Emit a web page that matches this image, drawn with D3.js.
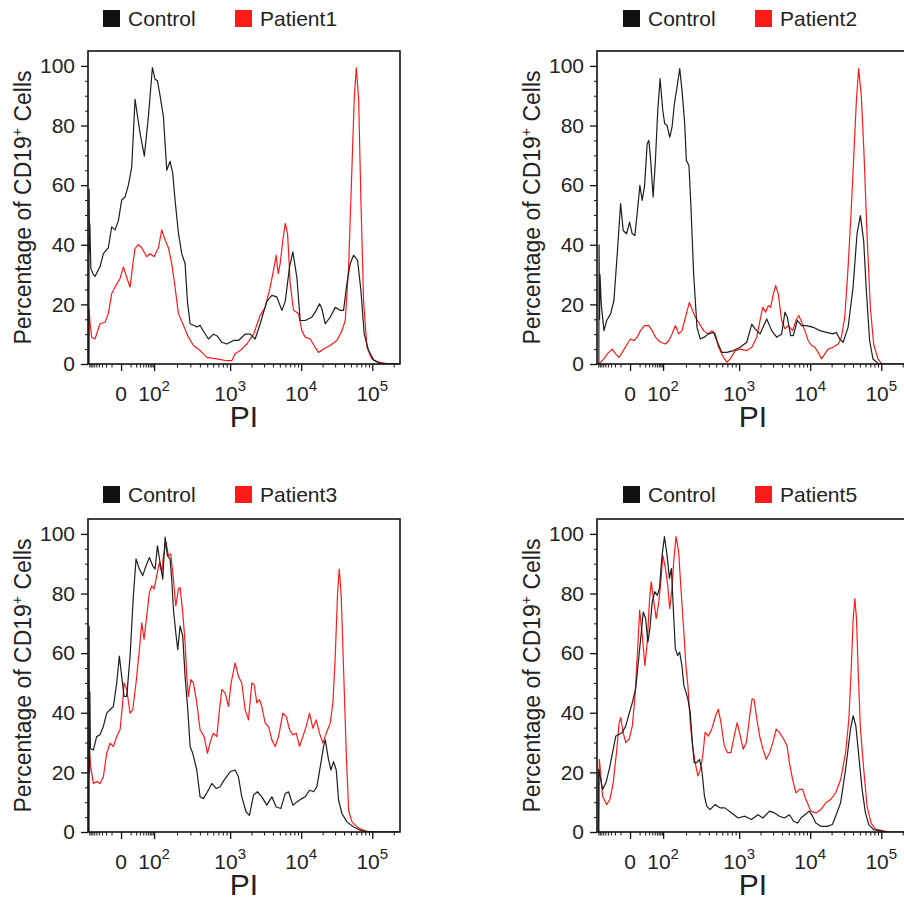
<!DOCTYPE html>
<html>
<head>
<meta charset="utf-8">
<script src="https://cdn.jsdelivr.net/npm/d3@7/dist/d3.min.js"></script>
<style>
  body { margin: 0; background: #fff; }
  text { font-family: "Liberation Sans", Arial, Helvetica, sans-serif; fill: #222; }
</style>
</head>
<body>
<div id="chart"></div>
<script>
// x values are display positions in decades on the FlowJo biex PI axis (10^3 -> 3, 10^4 -> 4 ...)
// y values are percentage of max (CD19+ cells)
const control1 = [[1.012,0],[1.016,58.6],[1.022,38],[1.026,47],[1.04,32],[1.075,30],[1.099,29.4],[1.169,32.6],[1.216,37],[1.286,39],[1.333,46],[1.380,45],[1.427,48],[1.474,55],[1.521,56],[1.568,60],[1.615,66],[1.662,88.8],[1.732,77.5],[1.793,69.7],[1.850,83],[1.906,99.4],[1.944,95.5],[1.977,95],[2.014,90],[2.061,83],[2.108,65],[2.155,68],[2.192,64],[2.225,55],[2.272,44],[2.319,37],[2.366,33.7],[2.399,21],[2.437,13.5],[2.484,13],[2.531,12.4],[2.577,13],[2.624,11],[2.695,8.4],[2.765,10],[2.812,9.5],[2.883,7.3],[2.953,6.7],[3.047,7.9],[3.117,7.9],[3.211,10],[3.282,10],[3.352,8.4],[3.423,13.5],[3.516,21],[3.587,23],[3.657,22.5],[3.728,18],[3.775,21],[3.836,32.6],[3.883,37.6],[3.939,29],[3.986,14.6],[4.056,14.6],[4.150,15.7],[4.197,17.4],[4.258,20.2],[4.291,18.5],[4.338,13.5],[4.408,15.7],[4.479,19],[4.549,18],[4.596,18],[4.643,27],[4.690,33.7],[4.737,36.5],[4.793,34.8],[4.840,24.7],[4.887,10],[4.948,4.5],[5.019,1.3],[5.113,0.2],[5.207,0],[5.39,0]];
const patient1 = [[1.012,0],[1.016,18.5],[1.028,14],[1.052,9],[1.099,8.4],[1.169,13.5],[1.239,14],[1.286,16.9],[1.333,23.6],[1.380,25.8],[1.451,28.7],[1.498,32.6],[1.545,29],[1.592,25.8],[1.638,34.8],[1.662,38.8],[1.709,40],[1.756,39],[1.826,36],[1.873,37],[1.930,36],[1.991,39],[2.038,45],[2.085,41.6],[2.131,39],[2.178,33.7],[2.225,25.8],[2.272,16.9],[2.343,13],[2.413,9],[2.484,6.2],[2.577,4.5],[2.671,2.2],[2.812,1.7],[2.953,1.1],[3.023,1.1],[3.070,3.4],[3.141,4.5],[3.235,6.7],[3.329,10],[3.423,16.3],[3.493,19],[3.563,25.8],[3.620,32.6],[3.648,36.5],[3.676,30.3],[3.704,33.7],[3.742,41.6],[3.775,47.2],[3.808,43.8],[3.845,27],[3.892,18],[3.962,16.9],[4.009,11.2],[4.056,9],[4.127,8.4],[4.197,5.6],[4.244,3.9],[4.315,5],[4.408,6.2],[4.502,7.9],[4.573,11.2],[4.620,14.6],[4.667,32.6],[4.714,66],[4.746,88.8],[4.775,99.4],[4.808,88.8],[4.840,55],[4.878,21],[4.925,5.6],[4.995,1.7],[5.089,0.6],[5.183,0.2],[5.39,0]];

const control2 = [[1.026,0],[1.029,40],[1.036,15],[1.042,30],[1.060,20],[1.098,11.2],[1.136,14.6],[1.192,16.8],[1.238,21.3],[1.285,37],[1.332,53.8],[1.369,44.8],[1.416,43.7],[1.458,47.6],[1.495,43.7],[1.533,43.1],[1.565,50.4],[1.603,59.9],[1.636,54.9],[1.668,59.4],[1.706,73.9],[1.729,75],[1.752,69.4],[1.790,56],[1.822,68.3],[1.855,85.1],[1.888,95.7],[1.925,85.1],[1.953,80.6],[1.986,80],[2.023,76.1],[2.056,79.5],[2.089,87.3],[2.126,92.9],[2.164,99.1],[2.196,91.8],[2.234,80.6],[2.257,68.3],[2.294,66.6],[2.322,52.6],[2.360,30.2],[2.407,12.3],[2.453,8.4],[2.509,9],[2.570,10.1],[2.640,10.6],[2.687,7.8],[2.757,3.9],[2.827,3.9],[2.921,4.5],[3.014,5.6],[3.107,7.3],[3.178,13.4],[3.224,11.8],[3.294,10.1],[3.388,15.1],[3.458,11.2],[3.528,9],[3.598,10.1],[3.645,17.4],[3.678,15.7],[3.724,9.5],[3.762,9.5],[3.818,14.6],[3.879,12.9],[3.949,12.9],[4.042,12.3],[4.136,11.2],[4.229,10.6],[4.322,10.1],[4.369,10.6],[4.416,8.4],[4.463,7.3],[4.533,12.3],[4.603,25.8],[4.659,43.7],[4.706,49.8],[4.752,41.4],[4.790,24.6],[4.836,7.8],[4.883,1.7],[4.953,0.2],[5.023,0],[5.39,0]];
const patient2 = [[1.03,0],[1.051,0.6],[1.098,1.7],[1.145,3.4],[1.215,5],[1.262,3.4],[1.308,2.2],[1.355,3.9],[1.425,6.7],[1.472,8.4],[1.519,7.8],[1.565,9],[1.612,11.2],[1.668,12.9],[1.729,12.9],[1.776,11.2],[1.822,9],[1.893,7.3],[1.963,6.7],[2.009,7.8],[2.056,10.1],[2.103,12.9],[2.150,10.1],[2.196,11.2],[2.257,16.8],[2.299,20.7],[2.336,18.5],[2.383,15.7],[2.430,14],[2.500,11.2],[2.556,10.1],[2.617,11.2],[2.664,10.1],[2.710,5.6],[2.780,2.2],[2.827,0.6],[2.874,1.7],[2.944,4.5],[3.014,5],[3.107,4.5],[3.178,5.6],[3.248,9],[3.294,14.6],[3.332,19],[3.374,17.4],[3.411,19.6],[3.444,19],[3.481,23.5],[3.514,26.3],[3.551,23.5],[3.598,14.6],[3.645,11.8],[3.692,12.9],[3.752,11.2],[3.808,15.1],[3.841,16.2],[3.879,14],[3.925,11.2],[3.972,7.8],[4.019,6.2],[4.065,5.6],[4.112,3.9],[4.159,1.7],[4.206,3.4],[4.252,5],[4.322,5.6],[4.393,6.7],[4.439,9],[4.486,15.7],[4.533,32.5],[4.579,52.6],[4.617,71.7],[4.650,88.5],[4.682,99.1],[4.720,89.6],[4.757,70.5],[4.799,43.7],[4.846,19],[4.893,6.7],[4.953,1.7],[5.000,0.2],[5.05,0]];

const control3 = [[1.012,0],[1.016,69],[1.022,20],[1.026,47],[1.034,28],[1.075,27.5],[1.122,32],[1.169,32.6],[1.216,35.4],[1.263,39.9],[1.310,41],[1.357,42.1],[1.404,50],[1.441,59],[1.474,52.2],[1.507,45.5],[1.545,45.5],[1.592,59],[1.638,79.2],[1.676,91.6],[1.723,88.2],[1.770,86],[1.817,89.3],[1.864,92.1],[1.911,89.3],[1.944,88.2],[1.977,96],[2.014,90.4],[2.052,84.8],[2.085,98.9],[2.117,92.7],[2.155,91.6],[2.178,84.8],[2.202,74.7],[2.235,66.9],[2.263,61.2],[2.296,69.1],[2.333,65.7],[2.366,52.2],[2.404,41],[2.437,28.7],[2.474,26.4],[2.531,20.8],[2.577,11.8],[2.624,11.2],[2.681,13.5],[2.742,16.3],[2.803,14.6],[2.859,15.2],[2.915,17.4],[3.000,20.2],[3.070,20.8],[3.117,18.5],[3.164,11.8],[3.225,6.7],[3.272,5.6],[3.329,12.4],[3.385,13.5],[3.446,11.8],[3.516,9],[3.587,11.8],[3.648,8.4],[3.714,7.9],[3.775,12.9],[3.822,13.5],[3.883,9],[3.939,10.1],[4.009,11.2],[4.056,11.8],[4.117,14],[4.174,13.5],[4.221,15.2],[4.268,21.9],[4.315,28.7],[4.338,30.9],[4.385,24.2],[4.418,20.8],[4.455,23.6],[4.493,20.8],[4.526,10.7],[4.573,6.2],[4.643,3.4],[4.737,1.7],[4.831,0.6],[4.901,0.2],[5.0,0],[5.39,0]];
const patient3 = [[1.012,0],[1.016,28.7],[1.038,22],[1.075,16.3],[1.122,16.9],[1.169,16.3],[1.216,18.5],[1.263,26.4],[1.310,29.8],[1.357,28.7],[1.404,32],[1.451,34.3],[1.488,43.3],[1.507,50],[1.545,47.8],[1.592,39.9],[1.629,41],[1.676,50],[1.723,61.2],[1.756,70.2],[1.789,64.6],[1.826,72.5],[1.864,80.3],[1.897,82.6],[1.930,81.5],[1.967,86],[2.005,90.4],[2.038,87.1],[2.061,92.7],[2.099,97.2],[2.131,92.7],[2.164,93.3],[2.202,84.8],[2.235,75.8],[2.272,81.5],[2.296,82],[2.333,73.6],[2.366,63.5],[2.390,52.2],[2.413,45.5],[2.446,51.1],[2.484,50],[2.531,43.3],[2.577,34.3],[2.634,32],[2.681,26.4],[2.728,30.9],[2.765,33.1],[2.812,32],[2.850,41],[2.883,47.8],[2.930,46.6],[2.977,42.1],[3.014,50],[3.070,56.7],[3.117,52.2],[3.164,50],[3.211,41],[3.258,37.6],[3.305,50],[3.338,49.4],[3.376,43.3],[3.413,44.4],[3.446,42.1],[3.493,36.5],[3.540,35.4],[3.587,30.9],[3.634,28.7],[3.681,32],[3.742,39.9],[3.789,38.8],[3.836,34.3],[3.883,32.6],[3.930,33.1],[3.977,28.7],[4.023,32],[4.070,35.4],[4.117,39.9],[4.164,34.8],[4.211,37.6],[4.258,33.1],[4.305,29.8],[4.352,33.1],[4.408,36.5],[4.446,43.3],[4.479,59],[4.512,80.3],[4.535,88.2],[4.563,79.2],[4.596,54.5],[4.634,26.4],[4.667,7.3],[4.714,3.4],[4.784,1.7],[4.854,0.8],[4.925,0.2],[5.0,0],[5.39,0]];

const control4 = [[1.020,0],[1.023,21],[1.042,18.8],[1.079,14.3],[1.126,16.5],[1.172,21],[1.219,26.6],[1.265,32.2],[1.312,32.8],[1.358,33.4],[1.405,35.6],[1.451,39.6],[1.498,43.5],[1.544,48],[1.591,59.2],[1.628,68.2],[1.651,73.8],[1.684,71.6],[1.716,63.7],[1.744,68.2],[1.777,77.2],[1.814,80.6],[1.847,79.4],[1.879,81.7],[1.916,92.9],[1.949,99.1],[1.986,92.9],[2.019,85.1],[2.047,88.4],[2.074,74.9],[2.102,61.5],[2.135,59.2],[2.163,60.3],[2.195,55.8],[2.223,49.1],[2.251,46.9],[2.279,44.6],[2.312,40.1],[2.335,32.2],[2.367,23.3],[2.405,23.3],[2.442,24.4],[2.474,21],[2.512,12],[2.544,8.7],[2.591,7.5],[2.660,9.2],[2.730,8.1],[2.800,8.1],[2.893,6.4],[2.986,4.7],[3.079,5.3],[3.172,4.2],[3.265,5.8],[3.335,4.7],[3.428,7],[3.498,6.4],[3.567,5.3],[3.637,4.7],[3.707,5.8],[3.767,3.6],[3.823,3],[3.870,4.7],[3.926,5.8],[3.986,7],[4.033,5.3],[4.079,3],[4.149,1.9],[4.242,1.9],[4.312,2.5],[4.358,5.3],[4.428,9.8],[4.498,21],[4.567,34.5],[4.605,39],[4.642,35.6],[4.684,25.5],[4.730,14.3],[4.777,6.4],[4.823,2.5],[4.893,0.8],[4.986,0.4],[5.05,0],[5.39,0]];
const patient5 = [[1.028,0],[1.033,24.4],[1.079,12],[1.135,9.2],[1.181,10.9],[1.228,16.5],[1.274,26.6],[1.312,36.7],[1.335,38.4],[1.367,33.4],[1.405,30],[1.451,31.1],[1.498,35.6],[1.535,45.7],[1.567,59.2],[1.600,74.4],[1.637,66],[1.674,55.8],[1.707,63.7],[1.740,78.3],[1.763,83.9],[1.800,77.2],[1.833,71.6],[1.870,77.2],[1.902,85.1],[1.926,92.9],[1.963,88.4],[1.995,82.8],[2.023,74.9],[2.056,81.7],[2.079,90.7],[2.112,99.1],[2.149,94],[2.181,81.7],[2.219,68.2],[2.251,55.8],[2.279,49.1],[2.312,36.7],[2.344,28.9],[2.381,23.3],[2.419,18.8],[2.456,21],[2.488,25.5],[2.521,33.4],[2.567,32.2],[2.614,34.5],[2.670,39],[2.707,41.2],[2.744,36.7],[2.791,28.9],[2.837,26.6],[2.884,26.6],[2.930,32.2],[2.972,36.7],[3.005,33.4],[3.056,27.8],[3.102,30],[3.149,39],[3.181,44.6],[3.209,44.6],[3.242,39],[3.288,32.2],[3.335,27.8],[3.381,24.4],[3.428,26.6],[3.474,30],[3.521,34.5],[3.567,33.4],[3.628,31.1],[3.674,28.9],[3.707,23.3],[3.753,17.6],[3.800,13.1],[3.847,14.3],[3.893,14.3],[3.940,10.9],[4.009,7],[4.079,6.4],[4.149,7.5],[4.219,9.8],[4.288,10.9],[4.358,13.1],[4.428,17.6],[4.498,26.6],[4.544,37.9],[4.577,54.7],[4.605,71.6],[4.628,78.3],[4.651,71.6],[4.674,54.7],[4.707,34.5],[4.753,21],[4.800,8.7],[4.856,3],[4.916,1],[5.033,0.4],[5.1,0]];

const patientNames = ["Patient1", "Patient2", "Patient3", "Patient5"];
const controlSeries = [control1, control2, control3, control4];
const patientSeries = [patient1, patient2, patient3, patient5];

// PI axis ticks (raw PI values) and labels
const xMajorValues = [0, 100, 1000, 10000, 100000];
const xMajorLabels = [["0", ""], ["10", "2"], ["10", "3"], ["10", "4"], ["10", "5"]];
const xMinorValues = [-90, -80, -70, -60, -50, -40, -30, -20, -10, 10, 20, 30, 40, 50, 60, 70, 80, 90,
  200, 300, 400, 500, 600, 700, 800, 900, 2000, 3000, 4000, 5000, 6000, 7000, 8000, 9000,
  20000, 30000, 40000, 50000, 60000, 70000, 80000, 90000, 200000];
const yMajorTicks = [0, 20, 40, 60, 80, 100];
const yMinorTicks = d3.range(0, 101, 5).filter(v => v % 20 !== 0);

// biex-like transform from PI value to display decades
function biex(v) {
  const a = Math.abs(v);
  if (a <= 100) return 1.465 + Math.sign(v) * 0.465 * Math.log10(1 + a / 10) / Math.log10(11);
  if (a < 1000) return 1.93 + 1.07 * Math.log10(a / 100);
  return Math.log10(a);
}

const W = 904, H = 901;
const pw = 312, ph = 313;
const panels = [
  { left: 88, top: 51, legendX: 103, legendY: 10 },
  { left: 597, top: 51, legendX: 623, legendY: 10 },
  { left: 88, top: 519, legendX: 103, legendY: 486 },
  { left: 597, top: 519, legendX: 623, legendY: 486 }
];

const svg = d3.select("#chart").append("svg")
  .attr("width", W).attr("height", H);

const x = d3.scaleLinear().domain([1.0, 5.39]).range([0, pw]);
const y = d3.scaleLinear().domain([0, 105]).range([ph, 0]);

const line = d3.line()
  .x(d => x(d[0]))
  .y(d => y(d[1]));

panels.forEach((p, i) => {
  const g = svg.append("g").attr("transform", `translate(${p.left},${p.top})`);

  g.append("clipPath").attr("id", "clip" + i)
    .append("rect").attr("width", pw).attr("height", ph);

  // histograms, patient under control
  const plot = g.append("g").attr("clip-path", `url(#clip${i})`);
  plot.append("path").datum(patientSeries[i])
    .attr("d", line).attr("fill", "none")
    .attr("stroke", "#ff1a1a").attr("stroke-width", 1.2).attr("stroke-linejoin", "round");
  plot.append("path").datum(controlSeries[i])
    .attr("d", line).attr("fill", "none")
    .attr("stroke", "#1e1e1e").attr("stroke-width", 1.2).attr("stroke-linejoin", "round");

  // frame
  g.append("rect").attr("width", pw).attr("height", ph)
    .attr("fill", "none").attr("stroke", "#111").attr("stroke-width", 1.6);

  // y axis
  const yMajor = g.append("g").call(d3.axisLeft(y).tickValues(yMajorTicks).tickSize(7).tickPadding(6));
  yMajor.select(".domain").remove();
  yMajor.selectAll("line").attr("stroke", "#111").attr("stroke-width", 1.3);
  yMajor.selectAll("text").attr("font-size", 21).attr("fill", "#222");
  const yMinor = g.append("g").call(d3.axisLeft(y).tickValues(yMinorTicks).tickSize(3).tickFormat(""));
  yMinor.select(".domain").remove();
  yMinor.selectAll("line").attr("stroke", "#111");

  // x axis (biex)
  const xa = g.append("g").attr("transform", `translate(0,${ph})`);
  const xMajor = xa.append("g").call(d3.axisBottom(x).tickValues(xMajorValues.map(biex)).tickSize(7).tickFormat(""));
  xMajor.select(".domain").remove();
  xMajor.selectAll("line").attr("stroke", "#111").attr("stroke-width", 1.3);
  const xMinor = xa.append("g").call(d3.axisBottom(x).tickValues(xMinorValues.map(biex)).tickSize(3.5).tickFormat(""));
  xMinor.select(".domain").remove();
  xMinor.selectAll("line").attr("stroke", "#111");

  xMajorValues.forEach((v, k) => {
    const t = xa.append("text")
      .attr("x", x(biex(v)))
      .attr("y", 37)
      .attr("text-anchor", "middle")
      .attr("font-size", 21);
    t.append("tspan").text(xMajorLabels[k][0]);
    if (xMajorLabels[k][1]) {
      t.append("tspan").attr("font-size", 15).attr("dy", -10).text(xMajorLabels[k][1]);
    }
  });

  // axis titles
  g.append("text")
    .attr("x", pw / 2).attr("y", ph + 63)
    .attr("text-anchor", "middle").attr("font-size", 30)
    .text("PI");

  const yt = g.append("text")
    .attr("transform", `translate(-57,${ph / 2}) rotate(-90)`)
    .attr("text-anchor", "middle").attr("font-size", 23);
  yt.append("tspan").text("Percentage of CD19");
  yt.append("tspan").attr("font-size", 14).attr("dy", -9).text("+");
  yt.append("tspan").attr("dy", 9).text(" Cells");

  // legend
  const lg = svg.append("g").attr("transform", `translate(${p.legendX},${p.legendY})`);
  const items = [["Control", "#111"], [patientNames[i], "#ff1a1a"]];
  items.forEach((it, k) => {
    const ig = lg.append("g").attr("transform", `translate(${k * 132},0)`);
    ig.append("rect").attr("width", 17).attr("height", 17).attr("fill", it[1]);
    ig.append("text").attr("x", 25).attr("y", 16).attr("font-size", 21).text(it[0]);
  });
});
</script>
</body>
</html>
